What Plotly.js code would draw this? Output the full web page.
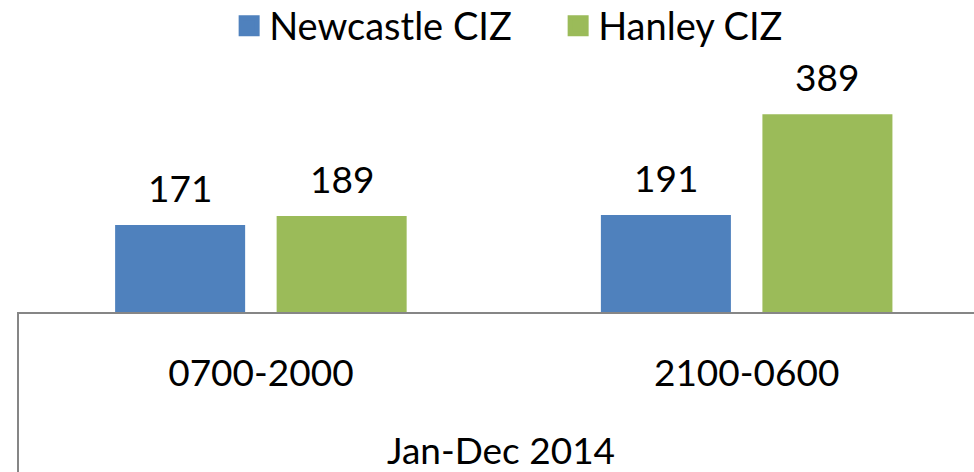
<!DOCTYPE html>
<html>
<head>
<meta charset="utf-8">
<script src="https://cdn.plot.ly/plotly-3.0.1.min.js"></script>
<style>html,body{margin:0;padding:0;background:#fff;}#chart{width:974px;height:472px;}</style>
</head>
<body>
<div id="chart"></div>
<script>
// ---- data ----
const categories = ["0700-2000", "2100-0600"];
const outerLabel = "Jan-Dec 2014";
const seriesNames = ["Newcastle CIZ", "Hanley CIZ"];
const newcastle = [171, 191];
const hanley = [189, 389];
const colors = ["#4F81BD", "#9BBB59"];

const FONT = "Lato, 'Open Sans', sans-serif";
const FS = 37;
const bargap = 0.335;
const bargroupgap = 0.195;

const series = [newcastle, hanley];
const traces = series.map((vals, i) => ({
  type: "bar",
  name: seriesNames[i],
  x: categories,
  y: vals,
  marker: {color: colors[i]},
  showlegend: false,
  hoverinfo: "none"
}));
// legend-only traces (bigger square swatches)
series.forEach((vals, i) => {
  traces.push({
    type: "scatter", mode: "markers", name: seriesNames[i],
    x: [null], y: [null],
    marker: {symbol: "square", size: 16, color: colors[i], line: {color: colors[i], width: 5}},
    showlegend: true, hoverinfo: "none"
  });
});

// value labels placed at the bar tops through the axis scales
const slot = (1 - bargap) / series.length;
const annotations = [];
series.forEach((vals, i) => {
  vals.forEach((v, j) => {
    annotations.push({
      xref: "x", yref: "y",
      x: j + (i - (series.length - 1) / 2) * slot,
      y: v, text: String(v), showarrow: false,
      yanchor: "bottom", xanchor: "center", yshift: 13,
      font: {family: FONT, size: FS, color: "#000"}
    });
  });
});
annotations.push({
  xref: "paper", yref: "paper", x: 0.5, xshift: 5, y: -0.5437,
  yanchor: "middle", xanchor: "center", showarrow: false,
  text: outerLabel, font: {family: FONT, size: FS, color: "#000"}
});

const layout = {
  width: 974, height: 472,
  margin: {l: 18, r: 0, t: 60, b: 160, pad: 0},
  paper_bgcolor: "#fff", plot_bgcolor: "#fff",
  font: {family: FONT, size: FS, color: "#000"},
  barmode: "group", bargap: bargap, bargroupgap: bargroupgap,
  showlegend: true,
  legend: {
    orientation: "h", x: 0.565, xanchor: "center", yref: "container", y: 0.945, yanchor: "middle",
    entrywidth: 284, entrywidthmode: "pixels",
    font: {family: FONT, size: 38, color: "#000"}, itemclick: false, itemdoubleclick: false
  },
  xaxis: {
    type: "category", range: [-0.5, 1.468], fixedrange: true,
    showline: true, linecolor: "#868686", linewidth: 2,
    showgrid: false, zeroline: false, ticks: "",
    ticklabelstandoff: 28,
    tickfont: {family: FONT, size: FS, color: "#000"}
  },
  yaxis: {
    range: [0, 496], visible: false, fixedrange: true, showgrid: false, zeroline: false
  },
  shapes: [{
    type: "line", xref: "paper", yref: "paper", x0: 0, x1: 0, y0: 0, y1: -1,
    line: {color: "#868686", width: 2}
  }],
  annotations: annotations
};

Plotly.newPlot("chart", traces, layout, {displayModeBar: false, staticPlot: true});
</script>
</body>
</html>
